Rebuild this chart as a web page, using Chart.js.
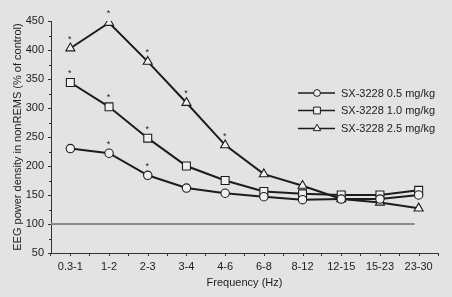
<!DOCTYPE html>
<html>
<head>
<meta charset="utf-8">
<script src="https://cdn.jsdelivr.net/npm/chart.js@4/dist/chart.umd.min.js"></script>
<style>
html,body{margin:0;padding:0;background:#e3e3e3;}
#wrap{width:452px;height:297px;position:relative;}
</style>
</head>
<body>
<div id="wrap"><canvas id="c" width="452" height="297"></canvas></div>
<script>
const categories = ['0.3-1','1-2','2-3','3-4','4-6','6-8','8-12','12-15','15-23','23-30'];
const dose05 = [230, 222, 184, 162, 153, 147, 142, 143, 143, 150];
const dose10 = [344, 302, 248, 200, 175, 156, 152, 150, 150, 158];
const dose25 = [403, 447, 380, 309, 236, 186, 166, 143, 137, 127];
const sig05 = [false, true, true, false, false, false, false, false, false, false];
const sig10 = [true, true, true, false, false, false, false, false, false, false];
const sig25 = [true, true, true, true, true, false, false, false, false, false];
const seriesNames = ['SX-3228 0.5 mg/kg','SX-3228 1.0 mg/kg','SX-3228 2.5 mg/kg'];
const yTicks = [50,100,150,200,250,300,350,400,450];
const controlLevel = 100;

const FONT = '"Liberation Sans", Arial, Helvetica, sans-serif';
const INK = '#1c1c1c';
const FILL = '#f0f0f0';

function ds(label, data, style, r) {
  return {
    label, data,
    borderColor: INK, borderWidth: 2,
    pointStyle: style, pointRadius: r, pointHoverRadius: r,
    pointBackgroundColor: FILL, pointBorderColor: INK, pointBorderWidth: 1.1,
    tension: 0, fill: false
  };
}

const bgPlugin = {
  id: 'bg',
  beforeDraw(chart) {
    const ctx = chart.ctx;
    ctx.save();
    ctx.fillStyle = '#e3e3e3';
    ctx.fillRect(0, 0, chart.width, chart.height);
    ctx.restore();
  }
};

const refPlugin = {
  id: 'ref',
  beforeDatasetsDraw(chart) {
    const {ctx, chartArea, scales} = chart;
    const y = scales.y.getPixelForValue(controlLevel);
    const xEnd = scales.x.getPixelForValue(categories.length - 1) - 4;
    ctx.save();
    ctx.strokeStyle = '#8a8a8a';
    ctx.lineWidth = 2;
    ctx.beginPath();
    ctx.moveTo(chartArea.left, y);
    ctx.lineTo(xEnd, y);
    ctx.stroke();
    ctx.restore();
  }
};

const ticksPlugin = {
  id: 'minorTicks',
  afterDraw(chart) {
    const {ctx, chartArea, scales} = chart;
    ctx.save();
    ctx.strokeStyle = '#333';
    ctx.lineWidth = 1;
    ctx.beginPath();
    for (let v = yTicks[0] + 25; v < yTicks[yTicks.length - 1]; v += 50) {
      const y = Math.round(scales.y.getPixelForValue(v)) + 0.5;
      ctx.moveTo(chartArea.left, y);
      ctx.lineTo(chartArea.left - 2, y);
    }
    for (let i = 0; i < categories.length; i++) {
      const x = Math.round(scales.x.getPixelForValue(i)) + 0.5;
      ctx.moveTo(x, chartArea.bottom);
      ctx.lineTo(x, chartArea.bottom + 3);
    }
    ctx.stroke();
    ctx.restore();
  }
};

const starPlugin = {
  id: 'stars',
  afterDatasetsDraw(chart) {
    const ctx = chart.ctx;
    const sigs = [sig05, sig10, sig25];
    ctx.save();
    ctx.fillStyle = INK;
    ctx.font = '9px ' + FONT;
    ctx.textAlign = 'center';
    ctx.textBaseline = 'middle';
    sigs.forEach((sig, di) => {
      const meta = chart.getDatasetMeta(di);
      sig.forEach((s, i) => {
        if (!s) return;
        const p = meta.data[i];
        ctx.fillText('*', p.x - 0.5, p.y - 9);
      });
    });
    ctx.restore();
  }
};

const legendPlugin = {
  id: 'customLegend',
  afterDraw(chart) {
    const ctx = chart.ctx;
    const styles = ['circle', 'rect', 'triangle'];
    const radii = [3.4, 4.8, 4.3];
    const rows = [93, 110.5, 128.5];
    ctx.save();
    styles.forEach((st, i) => {
      const y = rows[i];
      ctx.strokeStyle = INK;
      ctx.lineWidth = 1.6;
      ctx.beginPath();
      ctx.moveTo(298, y);
      ctx.lineTo(335, y);
      ctx.stroke();
      ctx.fillStyle = FILL;
      ctx.lineWidth = 1;
      Chart.helpers.drawPoint(ctx, {pointStyle: st, radius: radii[i], borderWidth: 1}, 317, y);
      ctx.fillStyle = INK;
      ctx.font = '11px ' + FONT;
      ctx.textAlign = 'left';
      ctx.textBaseline = 'middle';
      ctx.fillText(seriesNames[i], 341, y + 0.5);
    });
    ctx.restore();
  }
};

new Chart(document.getElementById('c'), {
  type: 'line',
  data: {
    labels: categories,
    datasets: [
      ds(seriesNames[0], dose05, 'circle', 4.2),
      ds(seriesNames[1], dose10, 'rect', 5.6),
      ds(seriesNames[2], dose25, 'triangle', 5.2)
    ]
  },
  options: {
    responsive: false,
    animation: false,
    events: [],
    layout: {padding: {left: 0, right: 14, top: 21, bottom: 0}},
    plugins: {legend: {display: false}, tooltip: {enabled: false}},
    scales: {
      x: {
        type: 'category',
        offset: true,
        grid: {display: true, drawOnChartArea: false, offset: true, color: '#333', tickLength: 3},
        border: {display: true, color: '#333', width: 1},
        ticks: {color: INK, font: {family: FONT, size: 11}, padding: 4, maxRotation: 0, autoSkip: false},
        title: {display: true, text: 'Frequency (Hz)', color: INK, font: {family: FONT, size: 11}, padding: {top: 0, bottom: 7}},
        afterFit(s) { s.height = 44; }
      },
      y: {
        min: 50, max: 450,
        afterBuildTicks(s) { s.ticks = yTicks.map(v => ({value: v})); },
        grid: {display: true, drawOnChartArea: false, color: '#333', tickLength: 3},
        border: {display: true, color: '#333', width: 1},
        ticks: {color: INK, font: {family: FONT, size: 11}, padding: 4},
        title: {display: true, text: 'EEG power density in nonREMS (% of control)', color: INK, font: {family: FONT, size: 11}, padding: {top: 11, bottom: 0}},
        afterFit(s) { s.width = 51; }
      }
    }
  },
  plugins: [bgPlugin, refPlugin, starPlugin, ticksPlugin, legendPlugin]
});
</script>
</body>
</html>
